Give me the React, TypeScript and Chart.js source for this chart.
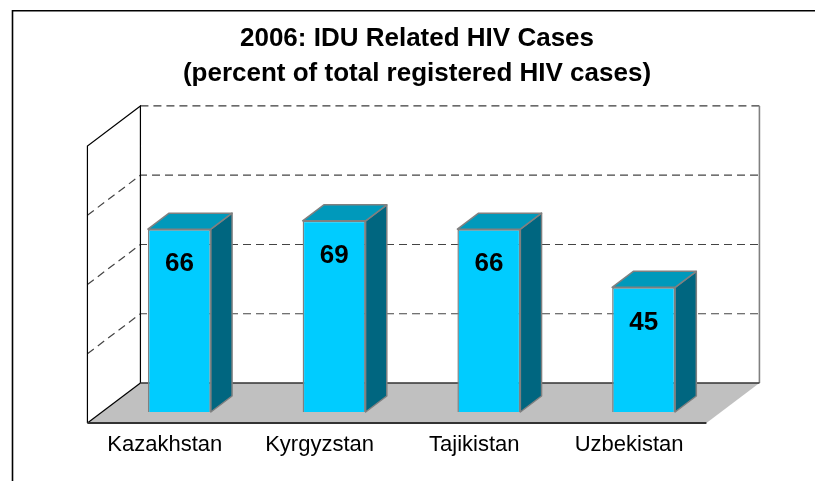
import React, { useEffect, useRef } from 'react';
import { Chart, registerables } from 'chart.js';

Chart.register(...registerables);

const categories = ['Kazakhstan', 'Kyrgyzstan', 'Tajikistan', 'Uzbekistan'];
const iduShare = [66, 69, 66, 45];
const titleLines = ['2006: IDU Related HIV Cases', '(percent of total registered HIV cases)'];
const yMin = 0;
const yMax = 100;
const yStep = 25;

const FONT = '"Liberation Sans", Arial, Helvetica, sans-serif';
// oblique 3D projection: full depth vector and where the bar front plane sits
const DEPTH_X = 53;
const DEPTH_Y = 40;
const FRONT_FRAC = 0.275;
const BAR_DEPTH = 0.4;

const threeD = {
  id: 'threeD',
  beforeDraw(chart: any) {
    const { ctx, width, height } = chart;
    ctx.save();
    ctx.fillStyle = '#ffffff';
    ctx.fillRect(0, 0, width, height);
    ctx.strokeStyle = '#000000';
    ctx.lineWidth = 1.6;
    ctx.beginPath();
    ctx.moveTo(12.5, height + 2);
    ctx.lineTo(12.5, 10.8);
    ctx.lineTo(width + 2, 10.8);
    ctx.stroke();
    ctx.restore();
  },
  beforeDatasetsDraw(chart: any) {
    const { ctx, chartArea: a, scales } = chart;
    const ys = scales.y;
    const fx = -FRONT_FRAC * DEPTH_X;
    const fy = FRONT_FRAC * DEPTH_Y;
    const bx = (1 - FRONT_FRAC) * DEPTH_X;
    const by = -(1 - FRONT_FRAC) * DEPTH_Y;
    const y0 = ys.getPixelForValue(ys.min);
    const yT = ys.getPixelForValue(ys.max);
    const FL = a.left + fx, FR = a.right + fx, BL = a.left + bx, BR = a.right + bx;

    const poly = (pts: number[][]) => {
      ctx.beginPath();
      ctx.moveTo(pts[0][0], pts[0][1]);
      for (let i = 1; i < pts.length; i++) ctx.lineTo(pts[i][0], pts[i][1]);
      ctx.closePath();
    };
    const line = (pts: number[][]) => {
      ctx.beginPath();
      ctx.moveTo(pts[0][0], pts[0][1]);
      for (let i = 1; i < pts.length; i++) ctx.lineTo(pts[i][0], pts[i][1]);
      ctx.stroke();
    };

    ctx.save();
    // walls
    ctx.fillStyle = '#ffffff';
    poly([[BL, yT + by], [BR, yT + by], [BR, y0 + by], [BL, y0 + by]]);
    ctx.fill();
    poly([[FL, yT + fy], [BL, yT + by], [BL, y0 + by], [FL, y0 + fy]]);
    ctx.fill();
    // floor
    ctx.fillStyle = '#c0c0c0';
    poly([[FL, y0 + fy], [FR, y0 + fy], [BR, y0 + by], [BL, y0 + by]]);
    ctx.fill();

    // gridlines
    ctx.setLineDash([8, 5]);
    ctx.lineWidth = 1.2;
    ys.ticks.forEach((t: any) => {
      if (t.value === ys.min) return;
      const yy = ys.getPixelForValue(t.value);
      if (t.value === ys.max) {
        ctx.strokeStyle = '#3a3a3a';
        line([[BL, yy + by], [BR, yy + by]]);
      } else {
        ctx.strokeStyle = '#444444';
        line([[FL, yy + fy], [BL, yy + by], [BR, yy + by]]);
      }
    });
    ctx.setLineDash([]);

    // wall edges
    ctx.strokeStyle = '#000000';
    ctx.lineWidth = 1.2;
    line([[FL, y0 + fy], [FL, yT + fy], [BL, yT + by], [BL, y0 + by]]);
    line([[FL, y0 + fy], [BL, y0 + by]]);
    ctx.strokeStyle = '#808080';
    ctx.lineWidth = 1.6;
    line([[BR, yT + by], [BR, y0 + by]]);
    // floor edges
    ctx.strokeStyle = '#333333';
    ctx.lineWidth = 1.5;
    line([[BL, y0 + by], [BR, y0 + by]]);
    ctx.lineWidth = 2;
    line([[FL, y0 + fy], [FR, y0 + fy]]);
    ctx.restore();
  },
  afterDatasetsDraw(chart: any) {
    const { ctx, scales } = chart;
    const meta = chart.getDatasetMeta(0);
    const dx = BAR_DEPTH * DEPTH_X;
    const dy = -BAR_DEPTH * DEPTH_Y;
    const fx = -FRONT_FRAC * DEPTH_X;
    const fy = FRONT_FRAC * DEPTH_Y;
    ctx.save();
    ctx.lineWidth = 1.5;
    ctx.strokeStyle = '#808080';
    ctx.lineJoin = 'round';
    meta.data.forEach((bar: any, i: number) => {
      const { x, y, base, width } = bar.getProps(['x', 'y', 'base', 'width'], true);
      const l = x - width / 2;
      const r = x + width / 2;
      // side
      ctx.fillStyle = '#006680';
      ctx.beginPath();
      ctx.moveTo(r, y);
      ctx.lineTo(r + dx, y + dy);
      ctx.lineTo(r + dx, base + dy);
      ctx.lineTo(r, base);
      ctx.closePath();
      ctx.fill();
      ctx.stroke();
      // top
      ctx.fillStyle = '#0099bb';
      ctx.beginPath();
      ctx.moveTo(l, y);
      ctx.lineTo(r, y);
      ctx.lineTo(r + dx, y + dy);
      ctx.lineTo(l + dx, y + dy);
      ctx.closePath();
      ctx.fill();
      ctx.stroke();
      // value label
      ctx.fillStyle = '#000000';
      ctx.font = `bold 26px ${FONT}`;
      ctx.textAlign = 'center';
      ctx.textBaseline = 'middle';
      ctx.fillText(String(iduShare[i]), x, y + 35);
    });
    // category labels along the front floor edge
    const xs = scales.x;
    const y0 = scales.y.getPixelForValue(scales.y.min);
    ctx.font = `22px ${FONT}`;
    ctx.fillStyle = '#000000';
    ctx.textAlign = 'center';
    ctx.textBaseline = 'alphabetic';
    categories.forEach((c, i) => {
      ctx.fillText(c, xs.getPixelForValue(i) + fx, y0 + fy + 28);
    });
    ctx.restore();
  },
};

export default function App() {
  const ref = useRef<HTMLCanvasElement | null>(null);
  useEffect(() => {
    if (!ref.current) return;
    const chart = new Chart(ref.current, {
      type: 'bar',
      data: {
        labels: categories,
        datasets: [
          {
            data: iduShare,
            backgroundColor: '#00ccff',
            borderColor: '#808080',
            borderWidth: 1.5,
            barPercentage: 0.407,
            categoryPercentage: 1,
          },
        ],
      },
      options: {
        responsive: false,
        animation: false,
        devicePixelRatio: 1,
        events: [],
        layout: { padding: { left: 102, right: 83, top: 0, bottom: 69 } },
        scales: {
          x: { display: false },
          y: { display: false, min: yMin, max: yMax, ticks: { stepSize: yStep } },
          pad: {
            type: 'linear',
            position: 'right',
            display: true,
            grid: { display: false },
            border: { display: false },
            ticks: { display: false },
            afterFit: (s: any) => {
              s.width = 11;
            },
          },
        },
        plugins: {
          legend: { display: false },
          tooltip: { enabled: false },
          title: {
            display: true,
            text: titleLines,
            color: '#000000',
            font: { family: FONT, size: 26, weight: 'bold', lineHeight: 1.33 },
            padding: { top: 21.7, bottom: 44.1 },
          },
        },
      } as any,
      plugins: [threeD],
    });
    return () => chart.destroy();
  }, []);
  return (
    <div style={{ position: 'absolute', left: 0, top: 0, width: 815, height: 481 }}>
      <canvas ref={ref} width={815} height={481} />
    </div>
  );
}
